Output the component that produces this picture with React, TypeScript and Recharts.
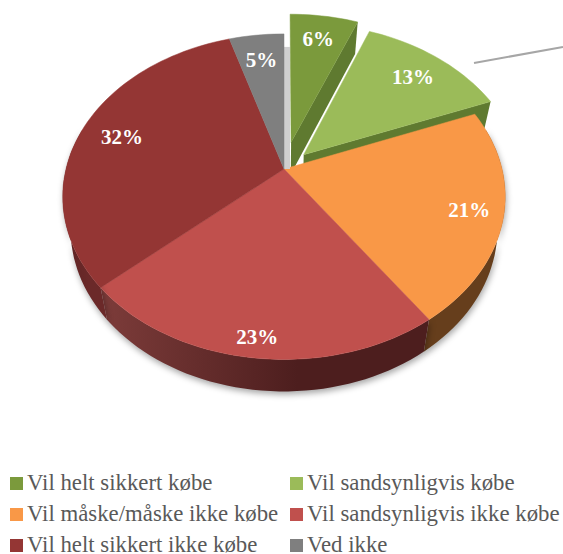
import { Legend, Pie, PieChart } from "recharts";

const categories = [
  "Vil helt sikkert købe",
  "Vil sandsynligvis købe",
  "Vil måske/måske ikke købe",
  "Vil sandsynligvis ikke købe",
  "Vil helt sikkert ikke købe",
  "Ved ikke",
];
// unrounded shares, labels show them rounded
const shares = [6, 13, 21.3, 23.1, 31.9, 4.7];
const faceColors = ["#7b9a3c", "#9bbb59", "#f99847", "#c0504d", "#943634", "#7f7f7f"];
const wallFrom = ["#5f7a30", "#5f7a30", "#663e1c", "#7d3c3a", "#5c2323", "#4c4c4c"];
const wallTo = ["#5f7a30", "#5f7a30", "#663e1c", "#4d1e1e", "#6b2929", "#4c4c4c"];
// how far a slice is pulled out, as a share of the radius
const explode = [0.178, 0.13, 0, 0, 0, 0];

const rows = categories.map((name, i) => ({ name, value: shares[i], fill: faceColors[i] }));

const TILT = 0.725;
const PERSPECTIVE = 0.17;
const DEPTH = 32;
const WALL_SHRINK = 0.965;

const toRad = (deg: number) => (deg * Math.PI) / 180;

// ground plane (u right, v away from the viewer) to screen
function project(cx: number, cy: number, R: number, u: number, v: number, lower = false) {
  const d = 1 + PERSPECTIVE * v;
  const x = (R * u) / d;
  const y = (R * TILT * v) / d;
  return lower ? [cx + x * WALL_SHRINK, cy - y + DEPTH] : [cx + x, cy - y];
}

function arc(from: number, to: number) {
  const out: number[] = [];
  for (let t = from; t < to; t += 2) out.push(t);
  out.push(to);
  return out;
}

const toPath = (pts: number[][]) =>
  pts.map((p, i) => `${i ? "L" : "M"}${p[0].toFixed(1)} ${p[1].toFixed(1)}`).join(" ") + " Z";

function Slice(props: any) {
  const { cx, cy, outerRadius: R, startAngle, endAngle, name } = props;
  const i = categories.indexOf(name);
  const t0 = 90 - startAngle;
  const t1 = 90 - endAngle;
  const mid = toRad((t0 + t1) / 2);
  const ou = explode[i] * Math.sin(mid);
  const ov = explode[i] * Math.cos(mid);
  const at = (t: number, lower = false) =>
    project(cx, cy, R, ou + Math.sin(toRad(t)), ov + Math.cos(toRad(t)), lower);
  const apex = (lower = false) => project(cx, cy, R, ou, ov, lower);

  const wallStart = Math.max(t0, 75);
  const wallEnd = Math.min(t1, 285);
  const hasWall = wallEnd > wallStart;
  const wallPts = hasWall
    ? [...arc(wallStart, wallEnd).map((t) => at(t)), ...arc(wallStart, wallEnd).reverse().map((t) => at(t, true))]
    : [];
  const face = [apex(), ...arc(t0, t1).map((t) => at(t))];
  const gradId = `wall-${i}`;
  const xs = wallPts.map((p) => p[0]);

  return (
    <g>
      {hasWall && (
        <defs>
          <linearGradient
            id={gradId}
            gradientUnits="userSpaceOnUse"
            x1={Math.min(...xs)}
            x2={Math.min(...xs) + (Math.max(...xs) - Math.min(...xs)) * 0.6}
            y1={0}
            y2={0}
          >
            <stop offset="0" stopColor={wallFrom[i]} />
            <stop offset="1" stopColor={wallTo[i]} />
          </linearGradient>
        </defs>
      )}
      {i === categories.length - 1 && (
        <path
          d={toPath([apex(), [at(t1)[0], at(t1)[1] + 13], [at(t1)[0] + 6, at(t1)[1] + 13], [apex()[0] + 6, apex()[1]]])}
          fill="#cfcfcf"
        />
      )}
      {hasWall && (
        <path
          d={toPath(wallPts)}
          fill={`url(#${gradId})`}
          style={{ filter: "drop-shadow(1px 3px 3px rgba(0,0,0,0.35))" }}
        />
      )}
      {explode[i] > 0 && (
        <path d={toPath([apex(), at(t1), at(t1, true), apex(true)])} fill={wallFrom[i]} />
      )}
      <path d={toPath(face)} fill={faceColors[i]} stroke={faceColors[i]} strokeWidth={0.5} />
    </g>
  );
}

function SliceLabel(props: any) {
  const { cx, cy, outerRadius: R, midAngle, name, value } = props;
  const i = categories.indexOf(name);
  const t = toRad(90 - midAngle);
  const c = Math.cos(t);
  const r = c < 0 ? 0.83 + 0.07 * Math.abs(c) : 0.8;
  const p = project(
    cx,
    cy,
    R,
    explode[i] * Math.sin(t) + r * Math.sin(t),
    explode[i] * c + r * c
  );
  return (
    <text
      x={p[0]}
      y={p[1] + 1}
      textAnchor="middle"
      dominantBaseline="central"
      fill="#ffffff"
      fontFamily="'Liberation Serif', serif"
      fontWeight={700}
      fontSize={21}
    >
      {Math.round(value)}%
    </text>
  );
}

function LegendBlock() {
  return (
    <div
      style={{
        display: "grid",
        gridTemplateColumns: "280px 273px",
        gridAutoRows: "31px",
        paddingLeft: 10,
        fontFamily: "'Liberation Serif', serif",
        fontSize: 22.8,
        lineHeight: "24px",
        color: "#595959",
        whiteSpace: "nowrap",
      }}
    >
      {categories.map((name, i) => (
        <div key={name} style={{ display: "flex", alignItems: "center", height: 24 }}>
          <span
            style={{ width: 13, height: 13, background: faceColors[i], marginRight: 4, flex: "none" }}
          />
          {name}
        </div>
      ))}
    </div>
  );
}

export default function App() {
  return (
    <div style={{ position: "absolute", left: 0, top: 0, width: 563, height: 554 }}>
      <PieChart width={563} height={554} margin={{ top: 0, right: 0, bottom: 0, left: 0 }}>
        <line x1={474} y1={63} x2={563} y2={47} stroke="#a6a6a6" strokeWidth={2} />
        <Pie
          data={rows}
          dataKey="value"
          nameKey="name"
          cx={284}
          cy={169}
          outerRadius={218}
          startAngle={90}
          endAngle={-270}
          stroke="none"
          shape={Slice}
          label={SliceLabel}
          labelLine={false}
          isAnimationActive={false}
        />
        <Legend content={LegendBlock} wrapperStyle={{ left: 0, top: 471, width: 563, bottom: "auto" }} />
      </PieChart>
    </div>
  );
}
